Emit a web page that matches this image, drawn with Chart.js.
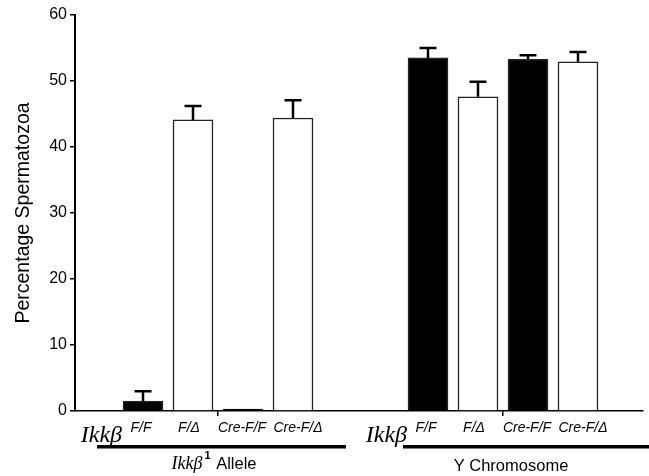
<!DOCTYPE html>
<html>
<head>
<meta charset="utf-8">
<script src="https://cdn.jsdelivr.net/npm/chart.js@4.4.1/dist/chart.umd.min.js"></script>
<style>
  html, body { margin: 0; padding: 0; background: #fff; }
  #wrap { width: 649px; height: 476px; }
</style>
</head>
<body>
<div id="wrap"><canvas id="chart" width="649" height="476"></canvas></div>
<script>
// data
const groups = ['Allele', 'Y Chromosome'];
const genotypes = ['F/F', 'F/Δ', 'Cre-F/F', 'Cre-F/Δ'];
const alleleMeans = [1.5, 44.1, 0.3, 44.4];
const alleleErrors = [1.5, 2.1, 0, 2.7];
const yChromMeans = [53.5, 47.6, 53.3, 52.9];
const yChromErrors = [1.5, 2.3, 0.6, 1.5];
const yTicks = [0, 10, 20, 30, 40, 50, 60];

const groupGap = 5.7; // x units between the first bars of the two groups
const allMeans = [alleleMeans, yChromMeans];
const allErrors = [alleleErrors, yChromErrors];

const points = [];
const errors = [];
const fills = [];
const labels = [];
allMeans.forEach((means, g) => {
    means.forEach((v, j) => {
        points.push({ x: g * groupGap + j, y: v });
        errors.push(allErrors[g][j]);
        // F/F and Cre-F/F are black, the Δ ones white
        fills.push(j % 2 === 0 ? '#000' : '#fff');
        labels.push(genotypes[j]);
    });
});

const SANS = '"Liberation Sans", Arial, sans-serif';
const SERIF = '"Liberation Serif", "Times New Roman", serif';

const errorBars = {
    id: 'errorBars',
    afterDatasetsDraw(chart) {
        const ctx = chart.ctx;
        const y = chart.scales.y;
        const meta = chart.getDatasetMeta(0);
        ctx.save();
        ctx.strokeStyle = '#000';
        ctx.lineWidth = 2.5;
        meta.data.forEach((bar, i) => {
            if (!errors[i]) return;
            const top = y.getPixelForValue(points[i].y + errors[i]);
            ctx.beginPath();
            ctx.moveTo(bar.x, bar.y);
            ctx.lineTo(bar.x, top);
            ctx.moveTo(bar.x - 8.5, top);
            ctx.lineTo(bar.x + 8.5, top);
            ctx.stroke();
        });
        ctx.restore();
    }
};

const axisLabels = {
    id: 'axisLabels',
    afterDraw(chart) {
        const ctx = chart.ctx;
        const x = chart.scales.x;
        ctx.save();
        ctx.fillStyle = '#000';
        ctx.textBaseline = 'middle';
        ctx.textAlign = 'center';

        // genotype labels under each bar (last one sits a little right)
        const nudge = [-2, -4, -1, 5];
        ctx.font = 'italic 14px ' + SANS;
        points.forEach((p, i) => {
            ctx.fillText(labels[i], x.getPixelForValue(p.x) + nudge[i % 4], 428);
        });

        const lineStarts = [-46, -25];
        const lineEnds = [53, 75];
        groups.forEach((name, g) => {
            const first = x.getPixelForValue(g * groupGap);
            const last = x.getPixelForValue(g * groupGap + genotypes.length - 1);
            const mid = (first + last) / 2;

            // Ikkβ gene name to the left of the labels
            ctx.font = 'italic 24px ' + SERIF;
            ctx.textAlign = 'right';
            ctx.textBaseline = 'alphabetic';
            ctx.fillText('Ikkβ', first - 21, 442);

            // thick underline
            ctx.fillRect(first + lineStarts[g], 445, last - first - lineStarts[g] + lineEnds[g], 3.5);

            // group title
            if (g === 0) {
                const a = 'Ikkβ', b = '1', c = ' ' + name;
                ctx.font = 'italic 18px ' + SERIF;
                const wa = ctx.measureText(a).width;
                ctx.font = 'bold 11px ' + SANS;
                const wb = ctx.measureText(b).width + 3;
                ctx.font = '16.5px ' + SANS;
                const wc = ctx.measureText(c).width;
                let sx = mid - 4 - (wa + wb + wc) / 2;
                ctx.textAlign = 'left';
                ctx.font = 'italic 18px ' + SERIF;
                ctx.fillText(a, sx, 469);
                ctx.font = 'bold 11px ' + SANS;
                ctx.fillText(b, sx + wa + 2, 459);
                ctx.font = '16.5px ' + SANS;
                ctx.fillText(c, sx + wa + wb, 469);
            } else {
                ctx.textAlign = 'center';
                ctx.font = '16.5px ' + SANS;
                ctx.fillText(name, mid + 8, 471);
            }
            ctx.textAlign = 'center';
            ctx.textBaseline = 'middle';
        });
        ctx.restore();
    }
};

new Chart(document.getElementById('chart'), {
    type: 'bar',
    data: {
        datasets: [{
            data: points,
            backgroundColor: fills,
            borderColor: '#222',
            borderWidth: 1.5,
            barThickness: 40
        }]
    },
    options: {
        responsive: false,
        animation: false,
        layout: { padding: { top: 15, right: 6, left: 0, bottom: 0 } },
        plugins: { legend: { display: false }, tooltip: { enabled: false } },
        scales: {
            x: {
                type: 'linear',
                offset: false,
                min: -1.36,
                max: 10,
                afterBuildTicks: (scale) => {
                    scale.ticks = groups.map((g, i) => ({ value: i * groupGap + (genotypes.length - 1) / 2 }));
                },
                afterFit: (scale) => { scale.height = 65; },
                ticks: { display: false },
                grid: { offset: false, drawOnChartArea: false, drawTicks: true, tickLength: 5, color: '#000', lineWidth: 1.5 },
                border: { color: '#000', width: 1.5 }
            },
            y: {
                min: 0,
                max: 60,
                afterBuildTicks: (scale) => { scale.ticks = yTicks.map(v => ({ value: v })); },
                afterFit: (scale) => { scale.width = 75; },
                ticks: { color: '#000', font: { family: SANS, size: 16 }, padding: 3 },
                grid: { drawOnChartArea: false, drawTicks: true, tickLength: 5, color: '#000', lineWidth: 1.5 },
                border: { color: '#000', width: 2 },
                title: {
                    display: true,
                    text: 'Percentage Spermatozoa',
                    color: '#000',
                    font: { family: SANS, size: 19.5 },
                    padding: { top: 12, bottom: 0 }
                }
            }
        }
    },
    plugins: [errorBars, axisLabels]
});
</script>
</body>
</html>
